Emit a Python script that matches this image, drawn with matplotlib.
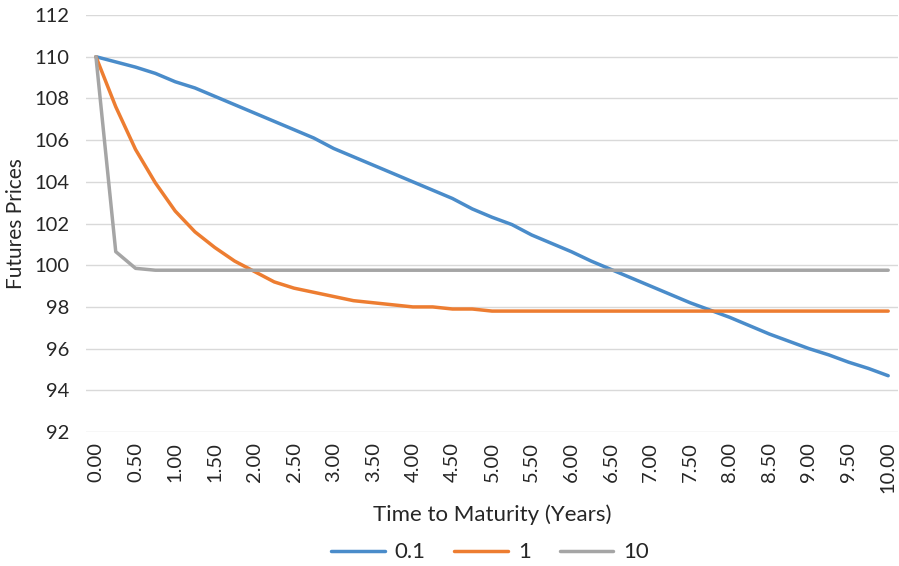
import numpy as np
import matplotlib.pyplot as plt

plt.rcParams['font.family'] = ['Lato', 'DejaVu Sans']

# Time to maturity (years), step 0.25
times = [i * 0.25 for i in range(41)]

# Futures prices for each parameter value
prices_01 = [110.0, 109.75, 109.5, 109.2, 108.8, 108.5, 108.1, 107.7, 107.3, 106.9,
             106.5, 106.1, 105.6, 105.2, 104.8, 104.4, 104.0, 103.6, 103.2, 102.7,
             102.3, 101.95, 101.45, 101.05, 100.65, 100.2, 99.8, 99.4, 99.0, 98.6,
             98.2, 97.85, 97.5, 97.1, 96.7, 96.35, 96.0, 95.7, 95.35, 95.05, 94.7]
prices_1 = [110.0, 107.6, 105.55, 103.95, 102.6, 101.6, 100.85, 100.2, 99.7, 99.2,
            98.9, 98.7, 98.5, 98.3, 98.2, 98.1, 98.0, 98.0, 97.9, 97.9,
            97.8, 97.8, 97.8, 97.8, 97.8, 97.8, 97.8, 97.8, 97.8, 97.8,
            97.8, 97.8, 97.8, 97.8, 97.8, 97.8, 97.8, 97.8, 97.8, 97.8, 97.8]
prices_10 = [110.0, 100.65, 99.85, 99.76] + [99.76] * 37

series = [("0.1", prices_01, '#4A8CCA'),
          ("1", prices_1, '#ED7D31'),
          ("10", prices_10, '#A5A5A5')]

txt = '#262626'
fig = plt.figure(figsize=(8.99, 5.66), dpi=100)
ax = fig.add_axes([0.0957, 0.2367, 0.9033, 0.7368])

idx = np.arange(len(times))
for label, vals, col in series:
    ax.plot(idx, vals, color=col, linewidth=2.5, label=label, solid_capstyle='round')

ax.set_xlim(-0.5, len(times) - 0.5)
ax.set_ylim(92, 112)
ax.set_yticks(np.arange(92, 113, 2))
ax.set_xticks(idx[::2])
ax.set_xticklabels([f"{t:.2f}" for t in times[::2]], rotation=90)
ax.tick_params(axis='both', length=0, labelsize=14.5, colors=txt)
ax.tick_params(axis='y', pad=12)
ax.tick_params(axis='x', pad=7)
ax.grid(axis='y', color='#D9D9D9', linewidth=1)
ax.set_axisbelow(True)
for s in ax.spines.values():
    s.set_visible(False)

ax.set_ylabel('Futures Prices', fontsize=15, color=txt, labelpad=6)
ax.set_xlabel('Time to Maturity (Years)', fontsize=16, color=txt, labelpad=8)

fig.legend(*ax.get_legend_handles_labels(), loc='center', bbox_to_anchor=(0.545, 0.024),
           ncol=3, frameon=False, fontsize=16, handlelength=2.4, columnspacing=1.3,
           handletextpad=0.45, labelcolor=txt)

fig.savefig('out.png', dpi=100)
